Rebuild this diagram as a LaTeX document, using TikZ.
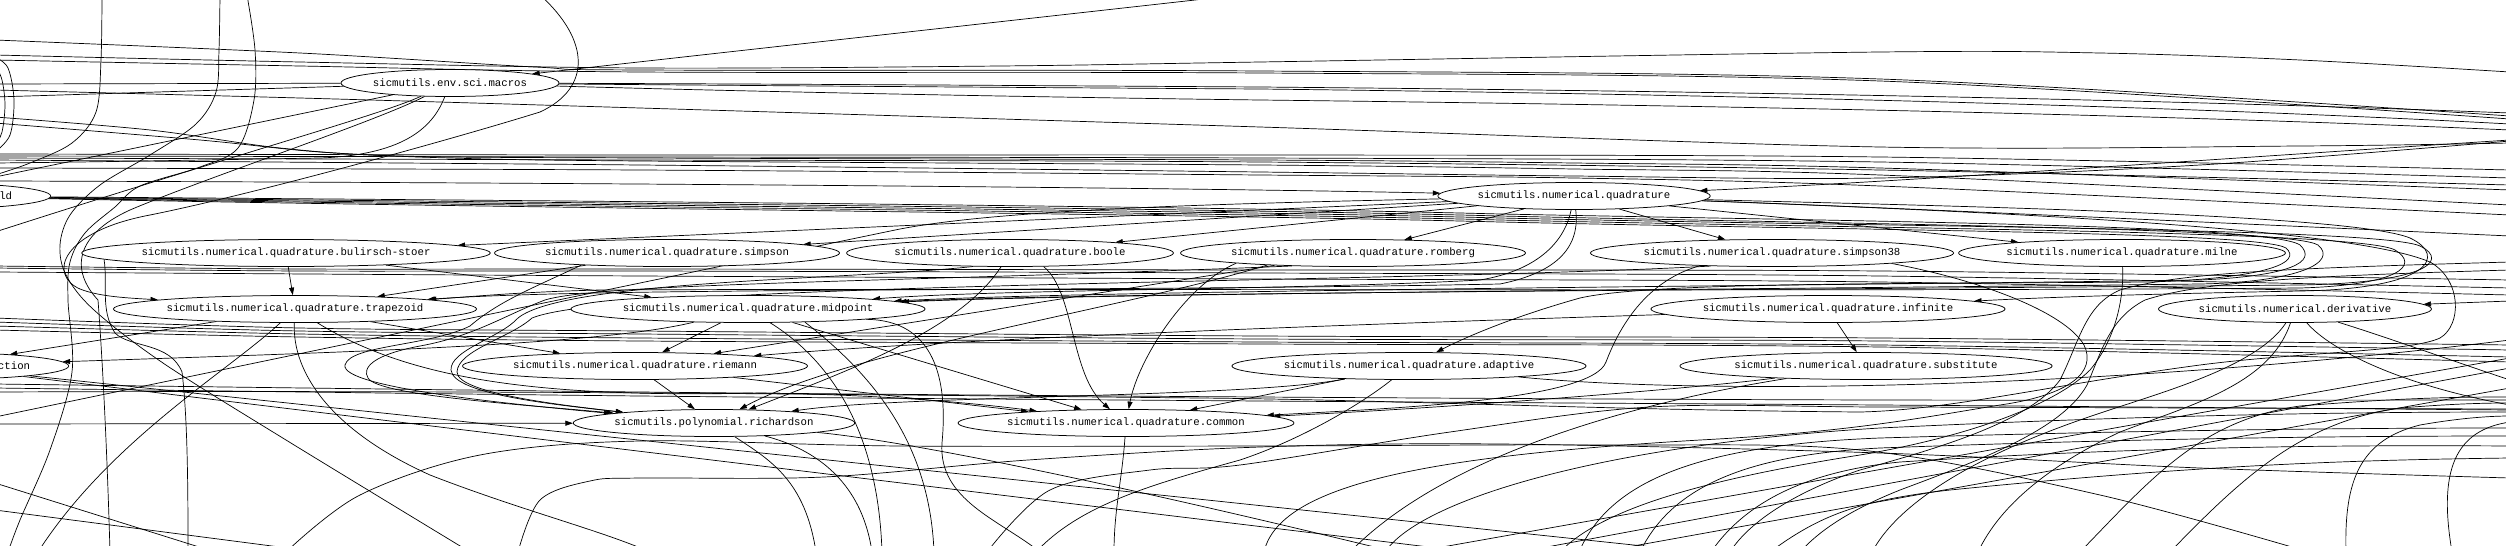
\documentclass[tikz,border=0pt]{standalone}
\usepackage{fontspec}
\usetikzlibrary{shapes.geometric,arrows.meta}
\newfontfamily\gvmono{Liberation Mono}
\newcommand{\gvfnt}{\gvmono\fontsize{10.7pt}{12pt}\selectfont}
\pgfdeclarelayer{edges}
\pgfsetlayers{edges,main}
\begin{document}
\begin{tikzpicture}[x=1pt,y=-1pt,
  mod/.style={draw, ellipse, inner sep=0pt, minimum height=27pt, line width=0.75pt, font=\gvfnt, fill=white},
  ed/.style={line width=0.7pt},
  ar/.style={ed,-{Triangle[length=7.5pt,width=5pt]}},
  sm/.style={smooth,tension=0.55}]
\useasboundingbox (0,0) rectangle (2506,546);
\clip (0,0) rectangle (2506,546);
% ---------------- nodes
\node[mod, minimum width=218pt] (macros) at (450,83) {sicmutils.env.sci.macros};
\node[mod, minimum width=263pt] (ld) at (-81,196) {\phantom{sicmutils.xxxxxxxx.xxxxxxxx}ld};
\node[mod, minimum width=269pt] (quad) at (1574,196) {sicmutils.numerical.quadrature};
\node[mod, minimum width=395pt] (bs) at (286,253) {sicmutils.numerical.quadrature.bulirsch-stoer};
\node[mod, minimum width=336pt] (simpson) at (667,253) {sicmutils.numerical.quadrature.simpson};
\node[mod, minimum width=320pt] (boole) at (1010,253) {sicmutils.numerical.quadrature.boole};
\node[mod, minimum width=337pt] (romberg) at (1353,253) {sicmutils.numerical.quadrature.romberg};
\node[mod, minimum width=353pt] (simpsonE) at (1772,253) {sicmutils.numerical.quadrature.simpson38};
\node[mod, minimum width=318pt] (milne) at (2122,253) {sicmutils.numerical.quadrature.milne};
\node[mod, minimum width=354pt] (trap) at (295,309) {sicmutils.numerical.quadrature.trapezoid};
\node[mod, minimum width=347pt] (mid) at (748,309) {sicmutils.numerical.quadrature.midpoint};
\node[mod, minimum width=344pt] (infinite) at (1828,309) {sicmutils.numerical.quadrature.infinite};
\node[mod, minimum width=273pt] (deriv) at (2295,309) {sicmutils.numerical.derivative};
\node[mod, minimum width=263pt] (ction) at (-63,366) {\phantom{sicmutils.xxxxxxx.xxxxxx}ction};
\node[mod, minimum width=338pt] (riemann) at (635,366) {sicmutils.numerical.quadrature.riemann};
\node[mod, minimum width=354pt] (adaptive) at (1409,366) {sicmutils.numerical.quadrature.adaptive};
\node[mod, minimum width=362pt] (subst) at (1866,366) {sicmutils.numerical.quadrature.substitute};
\node[mod, minimum width=278pt] (rich) at (714,423) {sicmutils.polynomial.richardson};
\node[mod, minimum width=336pt] (common) at (1126,423) {sicmutils.numerical.quadrature.common};
% ---------------- off-canvas ends
\coordinate (t1) at (1222,-3);
\coordinate (t2) at (102,-5);
\coordinate (t3) at (220,-5);
\coordinate (t4) at (247,-5);
\coordinate (t5) at (540,-5);
\coordinate (la1s) at (-5,57);
\coordinate (la1e) at (-5,152);
\coordinate (la2s) at (-5,64);
\coordinate (la2e) at (-5,146);
\foreach \v in {40,55,60,84,90,97,117,123,154,156,158,160,163,168,175,177,181,232,266,268,272,318,322,326,330,384,388,392,417,424,483,510}
  {\coordinate (l\v) at (-5,\v);}
\foreach \v in {72,113,116,119,124,130,140,141,143,170,178,185,190,205,215,236,262,270,280,288,295,301,340,345,350,357,358,362,368,380,388,397,400,403,405,409,410,412,416,422,428,436,446,458,478}
  {\coordinate (r\v) at (2510,\v);}
\foreach \v in {8,38,110,188,215,286,318,470,518,650,816,872,882,934,987,1036,1040,1114,1264,1350,1385,1395,1414,1470,1520,1560,1579,1600,1640,1700,1711,1730,1770,1800,1872,1978,2080,2170,2309,2346,2452}
  {\coordinate (b\v) at (\v,552);}
% ---------------- edges
\begin{pgfonlayer}{edges}
\fill[white] (0,0) rectangle (2506,546);
\clip (0,0) rectangle (2506,546);
% top band
\draw[ar] (t1) -- (macros);
\draw[ed] plot[sm] coordinates {(l40) (300,53) (535,67) (640,70) (1260,71) (1880,79) (r116)};
\draw[ed] plot[sm] coordinates {(l55) (300,62) (640,68) (1000,66) (1260,62) (1880,52) (2100,53) (2300,60) (r72)};
\draw[ed] plot[sm] coordinates {(l60) (300,66) (640,72) (1260,73) (1880,81) (r119)};
\draw[ed] (macros) .. controls (800,84) and (1100,86) .. (1260,87) .. controls (1600,90) and (2100,97) .. (r113);
\draw[ed] (macros) .. controls (800,86) and (1100,88) .. (1260,89) .. controls (1600,93) and (2100,102) .. (r124);
\draw[ed] (macros) .. controls (800,93) and (1100,98) .. (1260,100) .. controls (1600,104) and (2100,112) .. (r130);
\draw[ed] plot[sm] coordinates {(l90) (300,98) (640,108) (1260,127) (1880,147) (2300,146) (r143)};
\draw[ar] (r140) .. controls (2200,160) and (1900,182) .. (quad);
% macros to the left
\draw[ed] (macros) -- (l84);
\draw[ed] (macros) -- (l97);
\draw[ed] (macros) -- (l177);
\draw[ed] (macros) .. controls (380,115) and (250,150) .. (l232);
\draw[ed] (macros) .. controls (432,130) and (400,155) .. (320,158) .. controls (200,160) and (100,162) .. (l163);
\draw[ed] (macros) .. controls (380,120) and (200,180) .. (130,210) .. controls (75,235) and (70,270) .. (98,300) .. controls (104,380) and (108,480) .. (b110);
% vertical curves top left
\draw[ed] plot[sm] coordinates {(t2) (101,60) (96,112) (72,143) (30,163) (l175)};
\draw[ed] plot[sm] coordinates {(t3) (219,50) (216,92) (196,124) (150,155) (100,185) (70,215) (60,245) (66,275) (94,310) (163,363) (286,440) (b470)};
\draw[ed] plot[sm] coordinates {(t4) (255,50) (254,100) (238,148) (200,167) (140,186) (115,207) (85,233) (70,262) (68,300) (72,372) (50,450) (20,520) (b8)};
\draw[ar] (t5) .. controls (590,40) and (592,88) .. (540,112) .. controls (450,140) and (250,195) .. (150,215) .. controls (60,232) and (48,275) .. (80,289) .. controls (100,297) and (130,298) .. (trap);
\draw[ed] plot[sm] coordinates {(la1s) (8,68) (14,100) (10,135) (la1e)};
\draw[ed] plot[sm] coordinates {(la2s) (2,80) (5,105) (2,132) (la2e)};
% bundle under macros
\draw[ed] plot[sm] coordinates {(l117) (150,130) (280,148) (400,156) (640,158) (1260,160) (1574,163) (1880,168) (r190)};
\draw[ed] plot[sm] coordinates {(l123) (200,140) (320,152) (450,158) (640,161) (1260,165) (1574,169) (1880,175) (r205)};
\draw[ed] plot[sm] coordinates {(l154) (640,155) (1260,155) (1880,157) (r170)};
\draw[ed] plot[sm] coordinates {(l156) (640,157) (1260,158) (1880,162) (r178)};
\draw[ed] plot[sm] coordinates {(l158) (640,160) (1260,162) (1880,170) (r185)};
\draw[ed] plot[sm] coordinates {(l160) (640,165) (1260,172) (1574,176) (1880,178) (2200,165) (r141)};
\draw[ed] plot[sm] coordinates {(l168) (640,170) (1260,175) (1574,178) (1880,186) (r215)};
\draw[ar] (l181) .. controls (400,182) and (1100,186) .. (quad);
% bundle from ld, looping right
\draw[ar] (ld) .. controls (500,200) and (1200,206) .. (1500,214) .. controls (1900,222) and (2270,225) .. (2300,245) .. controls (2318,262) and (2290,276) .. (2200,280) .. controls (1800,286) and (1100,290) .. (mid);
\draw[ar] (ld) .. controls (500,202) and (1200,208) .. (1500,216) .. controls (1900,225) and (2290,228) .. (2318,245) .. controls (2338,262) and (2300,282) .. (2200,284) .. controls (1800,289) and (1100,293) .. (mid);
\draw[ar] (ld) .. controls (500,204) and (1200,210) .. (1500,218) .. controls (1900,227) and (2380,228) .. (2420,246) .. controls (2452,262) and (2420,283) .. (2300,285) .. controls (1800,290) and (1100,292) .. (mid);
\draw[ar] (ld) .. controls (500,206) and (1200,212) .. (1500,220) .. controls (1900,229) and (2360,231) .. (2395,250) .. controls (2420,265) and (2400,285) .. (2300,288) .. controls (1800,292) and (1000,288) .. (600,290) .. controls (520,292) and (480,296) .. (trap);
\draw[ar] (ld) .. controls (500,208) and (1200,214) .. (1500,222) .. controls (1900,231) and (2260,232) .. (2286,248) .. controls (2302,262) and (2270,278) .. (2150,282) .. controls (1900,284) and (1650,282) .. (1580,298) .. controls (1530,312) and (1480,330) .. (adaptive);
% quadrature
\draw[ar] (quad) -- (romberg);
\draw[ar] (quad) -- (simpsonE);
\draw[ar] (quad) -- (milne);
\draw[ar] (quad) -- (bs);
\draw[ar] (quad) -- (simpson);
\draw[ar] (quad) -- (boole);
\draw[ar] (quad) .. controls (1565,240) and (1540,270) .. (1480,280) .. controls (1300,290) and (1000,289) .. (mid);
\draw[ar] (quad) .. controls (1580,245) and (1560,272) .. (1500,284) .. controls (1100,292) and (600,287) .. (trap);
\draw[ar] (quad) .. controls (1900,205) and (2350,213) .. (2410,238) .. controls (2448,256) and (2430,289) .. (2300,291) .. controls (2150,294) and (2050,297) .. (infinite);
\draw[ed] (quad) .. controls (1900,208) and (2200,222) .. (r236);
\draw[ed] (quad) .. controls (2000,212) and (2350,228) .. (2430,262) .. controls (2462,280) and (2462,325) .. (2440,338) .. controls (2410,352) and (2300,352) .. (2200,365) .. controls (2050,385) and (1950,410) .. (1860,412) .. controls (1600,410) and (1400,400) .. (1200,398) .. controls (900,395) and (500,390) .. (l392);
\draw[ed] (quad) .. controls (1200,204) and (1000,210) .. (900,229) -- (640,283) -- (l417);
% rows 3-6
\draw[ar] (bs) -- (trap);
\draw[ar] (bs) -- (mid);
\draw[ar] (simpson) -- (trap);
\draw[ar] (boole.-22) .. controls (1075,292) and (1070,375) .. (common);
\draw[ar] (romberg.185) .. controls (1185,285) and (1138,360) .. (common);
\draw[ar] (romberg) -- (riemann);
\draw[ar] (romberg.188) .. controls (1120,310) and (850,350) .. (rich);
\draw[ar] (boole) .. controls (960,330) and (850,370) .. (rich);
\draw[ar] (mid) -- (riemann);
\draw[ar] (trap) -- (riemann);
\draw[ar] (riemann) -- (rich);
\draw[ar] (mid) -- (common);
\draw[ar] (riemann) -- (common);
\draw[ar] (trap) .. controls (410,380) and (540,398) .. (760,393) .. controls (900,395) and (990,405) .. (common);
\draw[ar] (adaptive) -- (common);
\draw[ar] (infinite) -- (subst);
\draw[ar] (infinite) .. controls (1500,320) and (1000,335) .. (riemann);
\draw[ar] (subst) .. controls (1700,388) and (1450,408) .. (common);
\draw[ar] (simpsonE.190) .. controls (1650,280) and (1622,320) .. (1606,362) .. controls (1592,400) and (1400,408) .. (common);
\draw[ar] (adaptive) .. controls (1250,398) and (900,395) .. (rich);
\draw[ar] (r301) -- (deriv);
\draw[ar] (trap) -- (ction);
\draw[ar] (mid) .. controls (600,345) and (350,352) .. (ction);
\draw[ar] (simpson.188) .. controls (540,285) and (500,300) .. (470,326) .. controls (430,346) and (350,345) .. (345,365) .. controls (340,388) and (520,405) .. (rich);
\draw[ar] (romberg.192) .. controls (900,282) and (600,283) .. (545,300) .. controls (505,315) and (475,336) .. (420,346) .. controls (372,355) and (362,368) .. (368,378) .. controls (378,396) and (530,405) .. (rich);
\draw[ar] (boole.200) .. controls (850,280) and (565,280) .. (518,318) .. controls (500,338) and (450,350) .. (451,370) .. controls (453,395) and (560,405) .. (rich);
\draw[ar] (simpsonE.192) .. controls (1400,283) and (620,282) .. (532,318) .. controls (510,338) and (458,350) .. (457,372) .. controls (457,394) and (570,406) .. (rich);
\draw[ar] (l424) -- (rich);
% bands between the rows
\draw[ed] plot[sm] coordinates {(l266) (300,269) (640,269) (1260,270) (1880,271) (r280)};
\draw[ed] plot[sm] coordinates {(l268) (300,271) (640,271) (1260,273) (1880,276) (r288)};
\draw[ed] plot[sm] coordinates {(l272) (640,276) (1260,279) (1880,282) (r295)};
\draw[ed] plot[sm] coordinates {(l318) (300,328) (640,331) (1260,336) (1880,338) (r345)};
\draw[ed] plot[sm] coordinates {(l322) (300,331) (640,334) (1260,339) (1880,341) (r350)};
\draw[ed] plot[sm] coordinates {(l326) (300,334) (640,338) (1260,342) (1880,345) (r357)};
\draw[ed] plot[sm] coordinates {(l330) (300,337) (640,341) (1260,344) (1880,347) (r362)};
\draw[ed] plot[sm] coordinates {(l384) (640,392) (1260,397) (1880,400) (r400)};
\draw[ed] plot[sm] coordinates {(l388) (640,396) (1260,401) (1880,405) (r410)};
% lower left
\draw[ed] (trap) .. controls (230,370) and (110,440) .. (b38);
\draw[ed] (trap) .. controls (292,372) and (330,430) .. (430,475) .. controls (520,510) and (600,530) .. (b650);
\draw[ed] (bs.182) .. controls (108,285) and (100,310) .. (115,333) .. controls (130,348) and (170,342) .. (182,372) .. controls (188,420) and (188,500) .. (b188);
\draw[ed] (l510) -- (b318);
\draw[ed] (l483) -- (b215);
\draw[ed] (ction) -- (b1470);
\draw[ed] (ction) -- (b1700);
\draw[ed] plot[sm] coordinates {(b286) (360,495) (480,455) (640,441) (900,446) (1260,446) (1600,445) (1860,450) (2100,495) (b2309)};
\draw[ed] plot[sm] coordinates {(b518) (540,500) (590,481) (640,478) (824,477) (1028,460) (1260,447) (1500,444) (1880,453) (2200,468) (r478)};
% lower middle
\draw[ed] (rich) .. controls (770,460) and (805,480) .. (b816);
\draw[ed] (rich) .. controls (800,445) and (860,470) .. (b872);
\draw[ed] (rich) .. controls (900,440) and (1100,480) .. (b1395);
\draw[ed] (common) .. controls (1122,480) and (1114,510) .. (b1114);
\draw[ed] (mid) .. controls (830,360) and (878,430) .. (b882);
\draw[ed] (mid.-13) .. controls (880,380) and (930,450) .. (b934);
\draw[ed] (mid.-5) .. controls (935,320) and (948,380) .. (942,443) .. controls (938,500) and (1000,520) .. (b1040);
\draw[ed] (adaptive) .. controls (1360,405) and (1300,440) .. (1240,460) .. controls (1150,485) and (1080,505) .. (b1036);
\draw[ed] plot[sm] coordinates {(b987) (1050,490) (1150,470) (1240,465) (1450,432) (1650,407) (1880,407) (2200,408) (r409)};
% lower right
\draw[ed] (subst) .. controls (1650,400) and (1450,450) .. (b1350);
\draw[ed] (simpsonE.-5) .. controls (1980,280) and (2065,312) .. (2084,345) .. controls (2097,372) and (2070,395) .. (2000,405) .. controls (1920,418) and (1850,432) .. (1700,440) .. controls (1450,455) and (1280,480) .. (b1264);
\draw[ed] (milne) .. controls (2124,300) and (2115,340) .. (2090,370) .. controls (2050,410) and (1950,440) .. (1860,455) .. controls (1700,480) and (1600,510) .. (b1560);
\draw[ed] (r262) .. controls (2300,268) and (2180,272) .. (2120,290) .. controls (2085,305) and (2080,340) .. (2060,380) .. controls (2030,420) and (1950,445) .. (1860,470) .. controls (1800,490) and (1750,520) .. (b1730);
\draw[ed] (r270) .. controls (2300,276) and (2200,282) .. (2145,300) .. controls (2110,318) and (2102,350) .. (2087,385) .. controls (2062,430) and (1980,460) .. (1900,490) .. controls (1850,510) and (1820,530) .. (b1800);
\draw[ed] (deriv) .. controls (2255,370) and (2150,395) .. (2080,420) .. controls (1980,455) and (1900,500) .. (b1872);
\draw[ed] (deriv) .. controls (2270,385) and (2190,405) .. (2120,432) .. controls (2050,465) and (2000,505) .. (b1978);
\draw[ed] (deriv) .. controls (2330,350) and (2400,385) .. (r405);
\draw[ed] (deriv) .. controls (2380,335) and (2450,360) .. (r380);
\draw[ed] (adaptive) .. controls (1700,395) and (2100,390) .. (r340);
\draw[ed] (b1385) .. controls (1420,500) and (1600,445) .. (1880,428) .. controls (2150,415) and (2350,412) .. (r412);
\draw[ed] (b1579) .. controls (1610,480) and (1700,445) .. (1880,438) .. controls (2150,430) and (2350,428) .. (r428);
\draw[ed] (b1640) .. controls (1670,490) and (1740,455) .. (1880,448) .. controls (2150,438) and (2350,436) .. (r436);
\draw[ed] (b1711) .. controls (1750,495) and (1820,470) .. (1900,462) .. controls (2150,446) and (2350,445) .. (r446);
\draw[ed] (b1770) .. controls (1820,515) and (1860,500) .. (1950,490) .. controls (2200,465) and (2350,460) .. (r458);
\draw[ed] (b2080) .. controls (2150,480) and (2200,420) .. (2300,406) .. controls (2400,398) and (2450,397) .. (r397);
\draw[ed] (b2170) .. controls (2240,480) and (2300,422) .. (2400,408) .. controls (2450,404) and (2480,403) .. (r403);
\draw[ed] (b2346) .. controls (2344,480) and (2360,440) .. (2420,425) .. controls (2460,418) and (2490,416) .. (r416);
\draw[ed] (b2452) .. controls (2438,470) and (2455,430) .. (r422);
\draw[ed] (b1414) -- (r358);
\draw[ed] (b1520) -- (r368);
\draw[ed] (b1600) -- (r388);
\end{pgfonlayer}
\end{tikzpicture}
\end{document}
